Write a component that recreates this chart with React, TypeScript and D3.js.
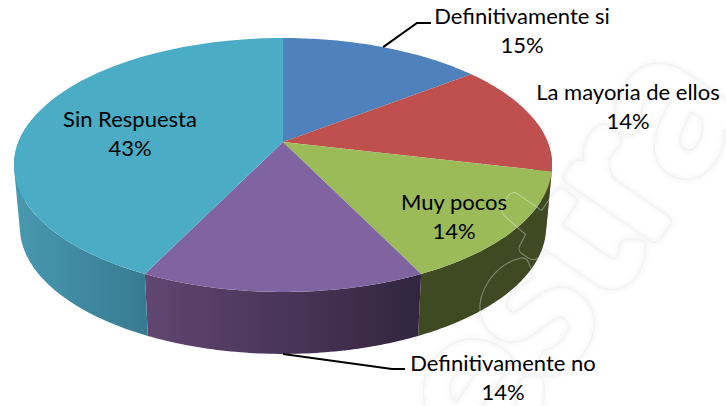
import React from 'react';
import * as d3 from 'd3';

const categories = ['Definitivamente si', 'La mayoria de ellos', 'Muy pocos', 'Definitivamente no', 'Sin Respuesta'];
const shares = [14.5, 14.2, 14.1, 14.4, 42.8];
const topColors = ['#4F81BD', '#C0504D', '#9BBB59', '#8064A2', '#4BACC6'];
const wallFrom = ['#3b618e', '#903c3a', '#3f4a22', '#614672', '#4899B1'];
const wallTo = ['#3b618e', '#903c3a', '#3f4a22', '#32253f', '#377A90'];

const width = 726;
const height = 406;

// tilted pie: perspective projection of the unit circle
const cx = 283;
const apexY = 142;
const radiusX = 264.6;
const radiusY = 97.1;
const tilt = -0.181;
const depth = 62;
const lowerScale = 0.978;

type Pt = [number, number];

const project = (angle: number, lower = false): Pt => {
  const u = Math.sin(angle);
  const v = -Math.cos(angle);
  const w = 1 + tilt * v;
  const x = (radiusX * u) / w;
  const y = (apexY + radiusY * v) / w;
  return lower ? [cx + x * lowerScale, y + depth] : [cx + x, y];
};

const arcAngles = (a0: number, a1: number) =>
  d3.range(0, 61).map((i) => a0 + ((a1 - a0) * i) / 60);

const line = d3.line();

const slices = d3
  .pie<number>()
  .sort(null)
  .value((d) => d)(shares);

const labelBoxes = [
  { x: 522, y: 24 },
  { x: 628, y: 100 },
  { x: 454, y: 210 },
  { x: 503, y: 371 },
  { x: 130, y: 127 },
];

const font = 'Lato, "Open Sans", sans-serif';

// only the front of the rim can be seen
const frontFrom = Math.PI * 0.45;
const frontTo = Math.PI * 1.55;

// the wall is the swept area between the two rims, one quad per step
const wallPath = (a0: number, a1: number) => {
  const angles = arcAngles(a0, a1);
  let d = '';
  for (let i = 0; i < angles.length - 1; i++) {
    const quad = [
      project(angles[i]),
      project(angles[i + 1]),
      project(angles[i + 1], true),
      project(angles[i], true),
    ];
    if ((d3.polygonArea(quad) ?? 0) < 0) quad.reverse();
    d += line(quad) + 'Z';
  }
  return d;
};

export default function App() {
  const topMid = project((slices[0].startAngle + slices[0].endAngle) / 2);
  const bottomMid = project((slices[3].startAngle + slices[3].endAngle) / 2, true);

  const walls = slices
    .map((s, i) => ({ i, a0: Math.max(s.startAngle, frontFrom), a1: Math.min(s.endAngle, frontTo) }))
    .filter((w) => w.a1 > w.a0);

  return (
    <svg
      width={width}
      height={height}
      style={{ position: 'absolute', left: 0, top: 0, background: '#fff' }}
    >
      <defs>
        {walls.map((w) => {
          const xs = arcAngles(w.a0, w.a1).flatMap((a) => [project(a)[0], project(a, true)[0]]);
          const [x1, x2] = d3.extent(xs) as [number, number];
          return (
            <linearGradient key={w.i} id={`wall${w.i}`} gradientUnits="userSpaceOnUse" x1={x1} x2={x2} y1="0" y2="0">
              <stop offset="0" stopColor={wallFrom[w.i]} />
              <stop offset="1" stopColor={wallTo[w.i]} />
            </linearGradient>
          );
        })}
        <filter id="soft" x="-10%" y="-10%" width="120%" height="120%">
          <feGaussianBlur stdDeviation="2.5" />
        </filter>
        <text
          id="wm"
          transform="translate(493,471) rotate(-55.4)"
          strokeLinejoin="round"
          style={{ fontFamily: font, fontSize: 205 }}
        >
          estra
        </text>
        <mask id="wmEdge" maskUnits="userSpaceOnUse" x="0" y="0" width={width} height={height}>
          <use href="#wm" fill="#fff" stroke="#fff" strokeWidth={13} />
          <use href="#wm" fill="#000" stroke="#000" strokeWidth={11} />
        </mask>
      </defs>

      {/* watermark under the chart */}
      <g filter="url(#soft)">
        <use href="#wm" fill="#ececec" stroke="#ececec" strokeWidth={16} opacity={0.6} />
        <use href="#wm" fill="#fff" stroke="#fff" strokeWidth={9} />
      </g>
      <rect width={width} height={height} fill="#ececec" mask="url(#wmEdge)" />

      {/* side walls */}
      {walls.map((w) => (
        <path key={w.i} d={wallPath(w.a0, w.a1)} fill={`url(#wall${w.i})`} />
      ))}

      {/* top faces */}
      {slices.map((s, i) => {
        const pts: Pt[] = [[cx, apexY], ...arcAngles(s.startAngle, s.endAngle).map((a) => project(a))];
        return <path key={i} d={line(pts) + 'Z'} fill={topColors[i]} />;
      })}

      {/* faint watermark edge over the chart */}
      <rect width={width} height={height} fill="#fff" opacity={0.35} mask="url(#wmEdge)" />

      {/* leader lines */}
      <path d={line([topMid, [417, 23], [431, 23]]) ?? ''} fill="none" stroke="#000" strokeWidth={2} />
      <path d={line([bottomMid, [392, 369], [405, 369]]) ?? ''} fill="none" stroke="#000" strokeWidth={2} />

      {categories.map((c, i) => {
        const b = labelBoxes[i];
        return (
          <text key={c} x={b.x} y={b.y} textAnchor="middle" fill="#000" style={{ fontFamily: font, fontSize: 22 }}>
            <tspan x={b.x}>{c}</tspan>
            <tspan x={b.x} dy={29}>{Math.round(shares[i])}%</tspan>
          </text>
        );
      })}
    </svg>
  );
}
